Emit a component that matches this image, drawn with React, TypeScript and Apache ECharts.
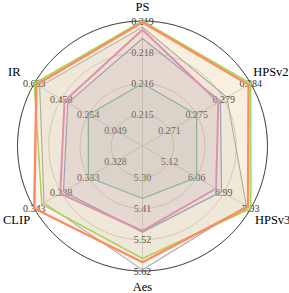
import React, { useEffect, useRef } from 'react';
import * as echarts from 'echarts';

// Axes in ECharts order (counter-clockwise from top)
const axisNames = ['PS', 'IR', 'CLIP', 'Aes', 'HPSv3', 'HPSv2'];
const axisMin = [0.2137, -0.1557, 0.323, 5.193, 4.183, 0.2665];
const axisMax = [0.219, 0.663, 0.343, 5.624, 7.93, 0.2838];

const seriesNames = ['Base', 'Method B', 'Method C', 'Method D', 'Method E', 'Ours'];
const seriesColors = ['#66c2a5', '#8da0cb', '#e78ac3', '#aaaaaa', '#a6d854', '#fc8d62'];
const seriesWidths = [1.3, 1.2, 2, 1.1, 1.5, 2.4];

const baseValues = [0.21635, 0.2537, 0.333, 5.374, 6.06, 0.27515];
const methodBValues = [0.21826, 0.409, 0.3376, 5.49, 6.918, 0.27896];
const methodCValues = [0.21863, 0.434, 0.3382, 5.486, 6.731, 0.27861];
const methodDValues = [0.21874, 0.622, 0.3412, 5.62, 7.78, 0.27999];
const methodEValues = [0.219, 0.663, 0.3416, 5.581, 7.93, 0.2838];
const oursValues = [0.21895, 0.647, 0.343, 5.594, 7.836, 0.28345];

const allValues = [baseValues, methodBValues, methodCValues, methodDValues, methodEValues, oursValues];

const nameStyleKey: Record<string, string> = {
  PS: 'top',
  Aes: 'bottom',
  HPSv2: 'ur',
  HPSv3: 'lr',
  CLIP: 'll',
  IR: 'ul',
};

export default function App() {
  const ref = useRef<HTMLDivElement>(null);
  useEffect(() => {
    if (!ref.current) return;
    const chart = echarts.init(ref.current, null, { renderer: 'svg' });
    const font = 'Liberation Serif';
    const fs = 12.5;
    chart.setOption({
      animation: false,
      backgroundColor: '#ffffff',
      radar: {
        center: [142.5, 146],
        radius: 125,
        shape: 'circle',
        splitNumber: 4,
        axisNameGap: 2,
        indicator: axisNames.map((n, i) => ({ name: n, min: axisMin[i], max: axisMax[i] })),
        axisName: {
          color: '#000',
          fontFamily: font,
          fontSize: fs,
          formatter: (name: string) => `{${nameStyleKey[name]}|${name}}`,
          rich: {
            top: { fontFamily: font, fontSize: fs, color: '#000', padding: [0, 0, 6, 0] },
            bottom: { fontFamily: font, fontSize: fs, color: '#000', padding: [7, 0, 0, 0] },
            ur: { fontFamily: font, fontSize: fs, color: '#000', padding: [0, 0, 20, 0] },
            lr: { fontFamily: font, fontSize: fs, color: '#000', padding: [18, 0, 0, 0] },
            ll: { fontFamily: font, fontSize: fs, color: '#000', padding: [18, 0, 0, 0] },
            ul: { fontFamily: font, fontSize: fs, color: '#000', padding: [0, 7, 15, 0] },
          },
        },
        axisLine: { show: true, lineStyle: { color: '#cccccc', width: 0.8 } },
        axisTick: { show: false },
        axisLabel: {
          show: true,
          margin: 0,
          align: 'center',
          verticalAlign: 'middle',
          fontFamily: font,
          fontSize: 10,
          color: '#333333',
          formatter: (v: number, idx: number) => {
            if (idx === 0) return '';
            return Math.abs(v) >= 1 ? v.toFixed(2) : v.toFixed(3);
          },
        },
        splitLine: {
          show: true,
          lineStyle: { color: ['#cccccc', '#cccccc', '#cccccc', '#cccccc', '#222222'], width: 0.8 },
        },
        splitArea: { show: false },
      },
      series: allValues.map((vals, i) => ({
        type: 'radar',
        name: seriesNames[i],
        symbol: 'none',
        z: 2 + i,
        lineStyle: { color: seriesColors[i], width: seriesWidths[i] },
        areaStyle: { color: seriesColors[i], opacity: 0.1 },
        data: [{ value: vals, name: seriesNames[i] }],
      })),
    });
    return () => chart.dispose();
  }, []);
  return (
    <div
      ref={ref}
      style={{ position: 'fixed', left: 0, top: 0, width: 289, height: 293 }}
    />
  );
}
